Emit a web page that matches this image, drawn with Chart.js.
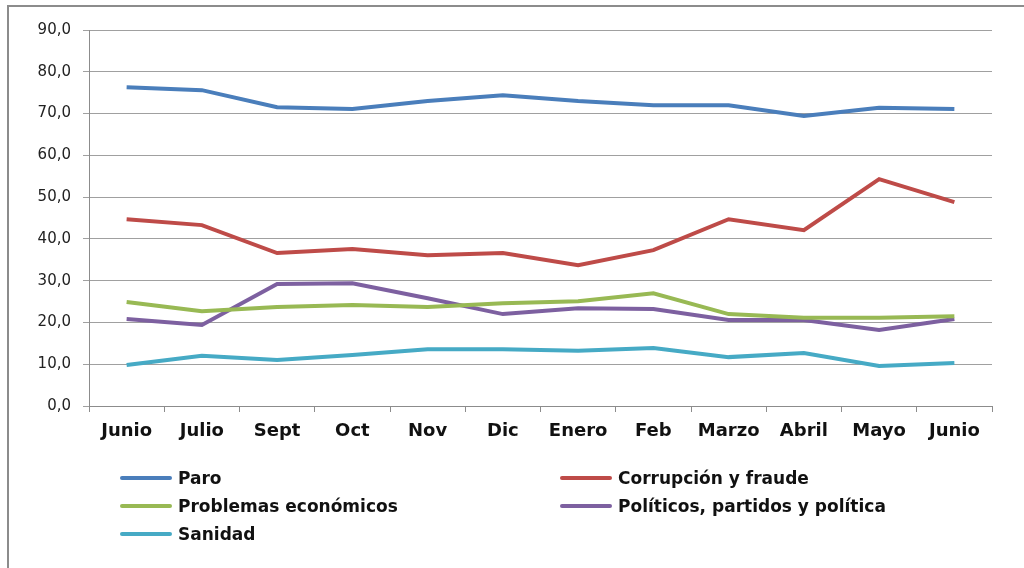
<!DOCTYPE html>
<html>
<head>
<meta charset="utf-8">
<script src="https://cdn.jsdelivr.net/npm/chart.js@4/dist/chart.umd.min.js"></script>
<style>
    html, body { margin: 0; padding: 0; background: #fff; }
    #wrap { position: relative; width: 1024px; height: 568px; overflow: hidden; }
    #frame { position: absolute; left: 7px; top: 5px; width: 1030px; height: 580px; border-left: 2px solid #8c8c8c; border-top: 2px solid #8c8c8c; }
    #chart { position: absolute; left: 0; top: 0; }
    #legend { position: absolute; left: 120px; top: 464px; display: grid; grid-template-columns: 440px 400px; grid-auto-rows: 28px; }
    .item { display: flex; align-items: center; font: bold 17px "DejaVu Sans", sans-serif; color: #111; }
    .swatch { width: 52px; height: 4px; margin-right: 6px; border-radius: 2px; }
</style>
</head>
<body>
<div id="wrap">
    <canvas id="chart" width="1024" height="568"></canvas>
    <div id="frame"></div>
    <div id="legend"></div>
</div>
<script>
const months = ['Junio', 'Julio', 'Sept', 'Oct', 'Nov', 'Dic', 'Enero', 'Feb', 'Marzo', 'Abril', 'Mayo', 'Junio'];
const paro = [76.3, 75.6, 71.5, 71.1, 73.0, 74.4, 73.0, 72.0, 72.0, 69.4, 71.4, 71.1];
const corrupcion = [44.7, 43.3, 36.6, 37.6, 36.1, 36.6, 33.7, 37.3, 44.7, 42.1, 54.3, 48.8];
const economicos = [24.9, 22.7, 23.7, 24.2, 23.7, 24.6, 25.1, 27.0, 22.0, 21.1, 21.1, 21.5];
const politicos = [20.8, 19.4, 29.2, 29.4, 25.8, 22.0, 23.4, 23.2, 20.6, 20.6, 18.2, 20.8];
const sanidad = [9.8, 12.0, 11.0, 12.2, 13.6, 13.6, 13.2, 13.9, 11.7, 12.7, 9.6, 10.3];

const series = [
    { label: 'Paro', data: paro, color: '#4a7ebb' },
    { label: 'Corrupción y fraude', data: corrupcion, color: '#be4b48' },
    { label: 'Problemas económicos', data: economicos, color: '#98b954' },
    { label: 'Políticos, partidos y política', data: politicos, color: '#7d60a0' },
    { label: 'Sanidad', data: sanidad, color: '#46aac5' },
];

const legend = document.getElementById('legend');
series.forEach(s => {
    const item = document.createElement('div');
    item.className = 'item';
    item.innerHTML = '<span class="swatch" style="background:' + s.color + '"></span>' + s.label;
    legend.appendChild(item);
});

new Chart(document.getElementById('chart'), {
    type: 'line',
    data: {
        labels: months,
        datasets: series.map(s => ({
            label: s.label,
            data: s.data,
            borderColor: s.color,
            backgroundColor: s.color,
            borderWidth: 4,
            pointRadius: 0,
            tension: 0,
        })),
    },
    options: {
        responsive: false,
        animation: false,
        layout: { padding: { top: 30, right: 32, bottom: 0, left: 10 } },
        plugins: { legend: { display: false }, tooltip: { enabled: false } },
        scales: {
            x: {
                offset: true,
                grid: { drawOnChartArea: false, tickLength: 6, color: '#8c8c8c', offset: true },
                border: { color: '#8c8c8c' },
                ticks: { padding: 9, color: '#111', font: { family: 'DejaVu Sans', size: 18, weight: 'bold' }, maxRotation: 0, autoSkip: false },
                afterFit: s => { s.height = 162; },
            },
            y: {
                min: 0,
                max: 90,
                grid: { color: '#a0a0a0', tickLength: 6 },
                border: { color: '#8c8c8c' },
                ticks: {
                    stepSize: 10,
                    padding: 12,
                    color: '#222',
                    font: { family: 'DejaVu Sans', size: 15 },
                    callback: v => v.toFixed(1).replace('.', ','),
                },
                afterFit: s => { s.width = 79; },
            },
        },
    },
});
</script>
</body>
</html>
